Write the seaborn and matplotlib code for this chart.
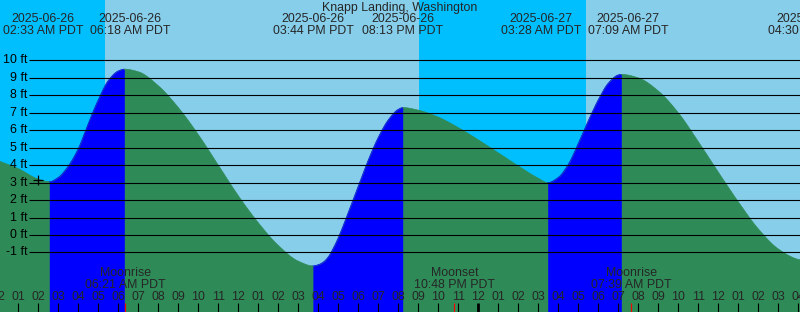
import numpy as np
import pandas as pd
import matplotlib
matplotlib.use("Agg")
import matplotlib.pyplot as plt
import seaborn as sns

# ---------------- data ----------------
title = "Knapp Landing, Washington"

# hours since 2025-06-26 00:00 PDT, tide height in ft
tide_hours = [0, 1, 2, 2.55, 3, 3.5, 4, 4.5, 5, 5.5, 6, 6.3, 7, 8, 9, 10, 11, 12, 13, 14,
              15, 15.73, 16, 16.25, 16.5, 16.75, 17, 17.5, 18, 18.5, 19, 19.5, 20, 20.22,
              21, 22, 23, 24, 25, 26, 27, 27.47, 28, 28.5, 29, 29.5, 30, 30.5, 31, 31.15,
              32, 33, 34, 35, 36, 37, 38, 39, 40, 40.5]
tide_ft = [4.25, 3.8, 3.2, 3.05, 3.3, 3.95, 4.95, 6.4, 7.75, 8.85, 9.4, 9.5, 9.35, 8.55,
           7.3, 5.75, 4.0, 2.25, 0.7, -0.6, -1.5, -1.77, -1.7, -1.55, -1.25, -0.75, -0.15,
           1.3, 2.8, 4.3, 5.6, 6.6, 7.2, 7.3, 7.15, 6.75, 6.15, 5.45, 4.7, 3.95, 3.25, 3.0,
           3.3, 4.05, 5.25, 6.55, 7.75, 8.7, 9.17, 9.2, 9.0, 8.25, 7.0, 5.35, 3.6, 1.9,
           0.35, -0.8, -1.4, -1.5]

# tide extremes (labels at top)
event_hours = [2.55, 6.3, 15.733, 20.217, 27.467, 31.15, 40.5]
event_dates = ["2025-06-26", "2025-06-26", "2025-06-26", "2025-06-26",
               "2025-06-27", "2025-06-27", "2025-06-27"]
event_times = ["02:33 AM PDT", "06:18 AM PDT", "03:44 PM PDT", "08:13 PM PDT",
               "03:28 AM PDT", "07:09 AM PDT", "04:30 PM PDT"]
# rising (flood) periods: low -> high
flood_periods = [(2.55, 6.3), (15.73, 20.22), (27.47, 31.15)]

# night periods (sunset -> sunrise)
night_periods = [(-1.0, 5.33), (21.03, 29.37)]

# moon events
moon_hours = [6.35, 22.8, 31.65]
moon_names = ["Moonrise", "Moonset", "Moonrise"]
moon_times = ["06:21 AM PDT", "10:48 PM PDT", "07:39 AM PDT"]

# "+" marker (current time)
now_hour = [2.0]
now_ft = [3.15]

y_levels = list(range(-1, 11))
hour_ticks = list(range(0, 41))

# ---------------- style ----------------
sns.set_style("white")
plt.rcParams["font.family"] = ["Liberation Sans", "DejaVu Sans"]
FS = 8.9

SKY = "#87CEEB"
NIGHT = "#00BFFF"
EBB = "#2E8B57"
FLOOD = "#0000FF"

W, H = 800, 312
fig = plt.figure(figsize=(W / 100, H / 100), dpi=100)
fig.patch.set_facecolor(SKY)
ax = fig.add_axes([0, 0, 1, 1])
ax.set_axis_off()

PX_PER_H = 20.0
X0 = -1.7          # pixel of hour 0
PX_PER_FT = 17.46
Y0 = 235.0         # pixel of 0 ft


def hx(px):
    return (px - X0) / PX_PER_H


def fy(py):
    return (Y0 - py) / PX_PER_FT


ax.set_xlim(hx(0), hx(W))
ybot, ytop = fy(H), fy(0)
ax.set_ylim(ybot, ytop)


def smooth_curve(x, y, xn):
    """Monotone cubic (PCHIP) rendering of the read points."""
    x = np.asarray(x, float)
    y = np.asarray(y, float)
    hh = np.diff(x)
    d = np.diff(y) / hh
    n = len(x)
    m = np.zeros(n)
    for k in range(1, n - 1):
        if d[k - 1] * d[k] > 0:
            w1 = 2 * hh[k] + hh[k - 1]
            w2 = hh[k] + 2 * hh[k - 1]
            m[k] = (w1 + w2) / (w1 / d[k - 1] + w2 / d[k])
    m[0] = d[0]
    m[-1] = d[-1]
    idx = np.clip(np.searchsorted(x, xn) - 1, 0, n - 2)
    x0, x1 = x[idx], x[idx + 1]
    y0, y1 = y[idx], y[idx + 1]
    m0, m1 = m[idx], m[idx + 1]
    hk = x1 - x0
    s = (xn - x0) / hk
    h00 = 2 * s**3 - 3 * s**2 + 1
    h10 = s**3 - 2 * s**2 + s
    h01 = -2 * s**3 + 3 * s**2
    h11 = s**3 - s**2
    return h00 * y0 + h10 * hk * m0 + h01 * y1 + h11 * hk * m1


# night shading
for a, b in night_periods:
    ax.axvspan(a, b, color=NIGHT, lw=0, zorder=0)

grid = np.union1d(np.linspace(tide_hours[0], tide_hours[-1], 1600), np.array(tide_hours))
curve = smooth_curve(tide_hours, tide_ft, grid)

# ebb fill
ax.fill_between(grid, curve, ybot, color=EBB, lw=0, zorder=1)
# flood fill
for lo, hi in flood_periods:
    m = (grid >= lo - 1e-6) & (grid <= hi + 1e-6)
    ax.fill_between(grid[m], curve[m], ybot, color=FLOOD, lw=0, zorder=2)

# outline of the curve, coloured by phase
rows = []
bounds = [grid[0]] + [v for p in flood_periods for v in p] + [grid[-1]]
for i in range(len(bounds) - 1):
    a, b = bounds[i], bounds[i + 1]
    m = (grid >= a - 1e-3) & (grid <= b + 1e-3)
    for tt, hv in zip(grid[m], curve[m]):
        rows.append({"t": tt, "h": hv, "seg": f"s{i}"})
df = pd.DataFrame(rows)
pal = {f"s{i}": (FLOOD if i % 2 == 1 else EBB) for i in range(len(bounds) - 1)}
sns.lineplot(data=df, x="t", y="h", hue="seg", palette=pal, legend=False,
             estimator=None, sort=False, lw=0.5, ax=ax, zorder=3)

# horizontal level lines + labels
ax.hlines(y_levels, hx(29), hx(W), colors="black", lw=0.8, zorder=4)
for lv in y_levels:
    ax.text(hx(27.5), lv, f"{lv} ft", ha="right", va="center", fontsize=FS,
            color="black", zorder=5)

# "+" marker
ax.plot(now_hour, now_ft, marker="+", ms=7, mew=0.9, color="black", ls="none", zorder=6)

# top labels, pushed apart when they overlap
px_pos = [X0 + PX_PER_H * e for e in event_hours]
MIN_SEP = 87.0
adj = list(px_pos)
for i in range(len(adj) - 1):
    d = adj[i + 1] - adj[i]
    if d < MIN_SEP:
        s = (MIN_SEP - d) / 2
        adj[i] -= s
        adj[i + 1] += s

trans = ax.get_xaxis_transform()


def ay(py):
    return 1 - py / H


for p, d, tm in zip(adj, event_dates, event_times):
    ax.text(hx(p), ay(19.5), d, ha="center", va="center", fontsize=FS,
            transform=trans, zorder=7)
    ax.text(hx(p), ay(31.5), tm, ha="center", va="center", fontsize=FS,
            transform=trans, zorder=7)

ax.text(hx(400), ay(7.5), title, ha="center", va="center", fontsize=FS,
        transform=trans, zorder=7)

# moon labels
for mh, nm, tm in zip(moon_hours, moon_names, moon_times):
    ax.text(mh, ay(273), nm, ha="center", va="center", fontsize=FS,
            transform=trans, zorder=7)
    ax.text(mh, ay(285.5), tm, ha="center", va="center", fontsize=FS,
            transform=trans, zorder=7)

# hour labels and ticks
for hr in hour_ticks:
    lab = hr % 12
    lab = 12 if lab == 0 else lab
    ax.text(hr, ay(297.5), f"{lab:02d}", ha="center", va="center", fontsize=FS,
            transform=trans, zorder=7)
    lw = 2.0 if hr % 24 == 0 else 0.8
    ax.vlines(hr, ay(311.5), ay(302.5), colors="black", lw=lw, transform=trans, zorder=7)
for mh in moon_hours:
    ax.vlines(mh, ay(311.5), ay(302.5), colors="red", lw=0.8, transform=trans, zorder=7)

fig.savefig("out.png", dpi=100, facecolor=fig.get_facecolor())
